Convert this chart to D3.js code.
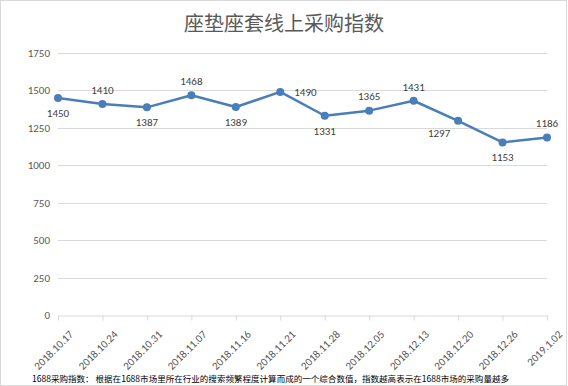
<!DOCTYPE html>
<html>
<head>
<meta charset="utf-8">
<script src="https://cdn.jsdelivr.net/npm/d3@7"></script>
<style>
  body { margin: 0; background: #fff; }
  svg { display: block; font-family: "Microsoft YaHei", "Noto Sans CJK SC", sans-serif; }
</style>
</head>
<body>
<div id="chart"></div>
<script>
const width = 568;
const height = 386;
const margin = { top: 53, right: 21, bottom: 71, left: 58 };

const dates = ["2018.10.17", "2018.10.24", "2018.10.31", "2018.11.07", "2018.11.16", "2018.11.21",
    "2018.11.28", "2018.12.05", "2018.12.13", "2018.12.20", "2018.12.26", "2019.1.02"];
const values = [1450, 1410, 1387, 1468, 1389, 1490, 1331, 1365, 1431, 1297, 1153, 1186];
// where each data label sits: a = above, b = below, r = right, bl = below-left
const labelPos = ["b", "a", "b", "a", "b", "r", "b", "a", "a", "bl", "b", "a"];
const yTicks = [0, 250, 500, 750, 1000, 1250, 1500, 1750];

const titleText = "座垫座套线上采购指数";
const noteText = "1688采购指数：  根据在1688市场里所在行业的搜索频繁程度计算而成的一个综合数值，指数越高表示在1688市场的采购量越多";

const svg = d3.select("#chart").append("svg")
    .attr("width", width)
    .attr("height", height);

// outer border
svg.append("rect")
    .attr("x", 0.5).attr("y", 0.5)
    .attr("width", width - 2).attr("height", height - 1)
    .attr("fill", "#fff")
    .attr("stroke", "#d9d9d9");

const x = d3.scalePoint()
    .domain(dates)
    .range([margin.left, width - margin.right]);

const y = d3.scaleLinear()
    .domain([0, 1750])
    .range([height - margin.bottom, margin.top]);

// title
svg.append("text")
    .attr("x", 284)
    .attr("y", 31)
    .attr("text-anchor", "middle")
    .attr("fill", "#595959")
    .style("font-size", "20px")
    .text(titleText);

// gridlines
svg.append("g")
    .selectAll("line")
    .data(yTicks.slice(1))
    .join("line")
    .attr("x1", margin.left)
    .attr("x2", width - margin.right)
    .attr("y1", d => Math.round(y(d)) + 0.5)
    .attr("y2", d => Math.round(y(d)) + 0.5)
    .attr("stroke", "#d9d9d9");

// y axis labels
const yAxis = svg.append("g")
    .attr("transform", `translate(${margin.left},0)`)
    .call(d3.axisLeft(y).tickValues(yTicks).tickFormat(d3.format("d")).tickSize(0).tickPadding(8));
yAxis.select(".domain").remove();
yAxis.selectAll("text")
    .attr("fill", "#595959")
    .style("font-size", "11px")
    .style("font-family", "Calibri, Carlito, 'Liberation Sans', sans-serif");

// x axis
const xAxis = svg.append("g")
    .attr("transform", `translate(0,${Math.round(y(0)) + 0.5})`)
    .call(d3.axisBottom(x).tickSize(5).tickSizeOuter(0).tickPadding(6));
xAxis.select(".domain").attr("stroke", "#d9d9d9");
xAxis.selectAll(".tick line").attr("stroke", "#d9d9d9");
xAxis.selectAll("text")
    .attr("fill", "#595959")
    .style("font-size", "11px")
    .style("font-family", "Calibri, Carlito, 'Liberation Sans', sans-serif")
    .attr("text-anchor", "end")
    .attr("dy", "0.35em")
    .attr("transform", "translate(5,9) rotate(-45)");

// line
const line = d3.line()
    .x((d, i) => x(dates[i]))
    .y(d => y(d));

svg.append("path")
    .datum(values)
    .attr("fill", "none")
    .attr("stroke", "#4a7ebb")
    .attr("stroke-width", 2.5)
    .attr("stroke-linejoin", "round")
    .attr("d", line);

svg.append("g")
    .selectAll("circle")
    .data(values)
    .join("circle")
    .attr("cx", (d, i) => x(dates[i]))
    .attr("cy", d => y(d))
    .attr("r", 4)
    .attr("fill", "#4a7ebb");

// data labels
svg.append("g")
    .selectAll("text")
    .data(values)
    .join("text")
    .attr("x", (d, i) => {
        const p = labelPos[i];
        if (p === "r") return x(dates[i]) + 14;
        if (p === "bl") return x(dates[i]) - 19;
        return x(dates[i]);
    })
    .attr("y", (d, i) => {
        const p = labelPos[i];
        if (p === "a") return y(d) - 14;
        if (p === "r") return y(d);
        if (p === "bl") return y(d) + 12;
        return y(d) + 15;
    })
    .attr("dy", "0.35em")
    .attr("text-anchor", (d, i) => labelPos[i] === "r" ? "start" : "middle")
    .attr("fill", "#404040")
    .style("font-size", "11px")
    .style("font-family", "Calibri, Carlito, 'Liberation Sans', sans-serif")
    .text(d => d);

// footnote
svg.append("text")
    .attr("x", 32)
    .attr("y", 382)
    .attr("fill", "#000")
    .style("font-size", "8.5px")
    .attr("textLength", 477)
    .attr("lengthAdjust", "spacingAndGlyphs")
    .text(noteText);
</script>
</body>
</html>
